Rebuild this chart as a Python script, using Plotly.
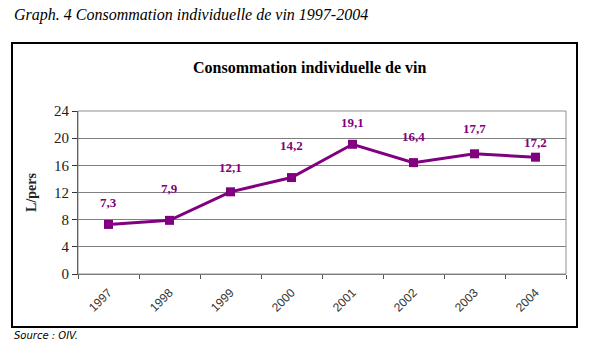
import plotly.graph_objects as go

years = ["1997", "1998", "1999", "2000", "2001", "2002", "2003", "2004"]
consumption = [7.3, 7.9, 12.1, 14.2, 19.1, 16.4, 17.7, 17.2]
value_labels = ["7,3", "7,9", "12,1", "14,2", "19,1", "16,4", "17,7", "17,2"]
label_shift = [22, 32, 24, 32, 22, 26, 25, 15]

PURPLE = "#800080"
SERIF = "Liberation Serif, Times New Roman, DejaVu Serif, serif"
W, H = 592, 346
L, R, T, B = 78, 26, 111, 72
pw, ph = W - L - R, H - T - B

def px_x(x):
    return (x - L) / pw

def px_y(y):
    return (H - B - y) / ph

fig = go.Figure()
fig.add_trace(go.Scatter(
    x=years, y=consumption, mode="lines+markers",
    line=dict(color=PURPLE, width=3),
    marker=dict(symbol="square", size=9, color=PURPLE),
    hoverinfo="skip", showlegend=False,
))

for i, (v, lab, s) in enumerate(zip(consumption, value_labels, label_shift)):
    fig.add_annotation(x=i, y=v, xref="x", yref="y", text=f"<b>{lab}</b>", showarrow=False,
                       yshift=s, font=dict(family=SERIF, size=13, color=PURPLE))

fig.update_layout(
    width=W, height=H,
    margin=dict(l=L, r=R, t=T, b=B),
    paper_bgcolor="white", plot_bgcolor="white",
    xaxis=dict(type="category", tickson="boundaries", ticks="outside", ticklen=4,
               tickcolor="#555", showgrid=False, showline=True, linecolor="#666",
               tickangle=-45, ticklabelstandoff=6,
               tickfont=dict(family="Liberation Sans, Arial, sans-serif", size=12, color="#333"),
               range=[-0.5, 7.5], fixedrange=True),
    yaxis=dict(range=[0, 24], dtick=4, ticks="outside", ticklen=5, tickcolor="#333",
               showgrid=True, gridcolor="#808080", gridwidth=1,
               showline=True, linecolor="#333", zeroline=False,
               tickfont=dict(family=SERIF, size=15, color="#222"),
               title=dict(text="<b>L/pers</b>", font=dict(family=SERIF, size=14, color="#222"),
                          standoff=14)),
)

# plot area frame (grey)
fig.add_shape(type="rect", xref="x domain", yref="y domain", x0=0, x1=1, y0=0, y1=1,
              line=dict(color="#909090", width=1))

# outer box
fig.add_shape(type="rect", xref="paper", yref="paper",
              x0=px_x(12), x1=px_x(577), y0=px_y(327), y1=px_y(43),
              line=dict(color="black", width=2))

fig.add_annotation(xref="paper", yref="paper", x=px_x(12), y=px_y(15),
                   xanchor="left", yanchor="middle", showarrow=False,
                   text="<i>Graph. 4 Consommation individuelle de vin 1997-2004</i>",
                   font=dict(family=SERIF, size=16, color="black"))

fig.add_annotation(xref="paper", yref="paper", x=px_x(309), y=px_y(67),
                   xanchor="center", yanchor="middle", showarrow=False,
                   text="<b>Consommation individuelle de vin</b>",
                   font=dict(family=SERIF, size=16, color="black"))

fig.add_annotation(xref="paper", yref="paper", x=px_x(12), y=px_y(335),
                   xanchor="left", yanchor="middle", showarrow=False,
                   text="<i>Source : OIV.</i>",
                   font=dict(family="DejaVu Sans", size=10, color="black"))

fig.write_html("out.html")
